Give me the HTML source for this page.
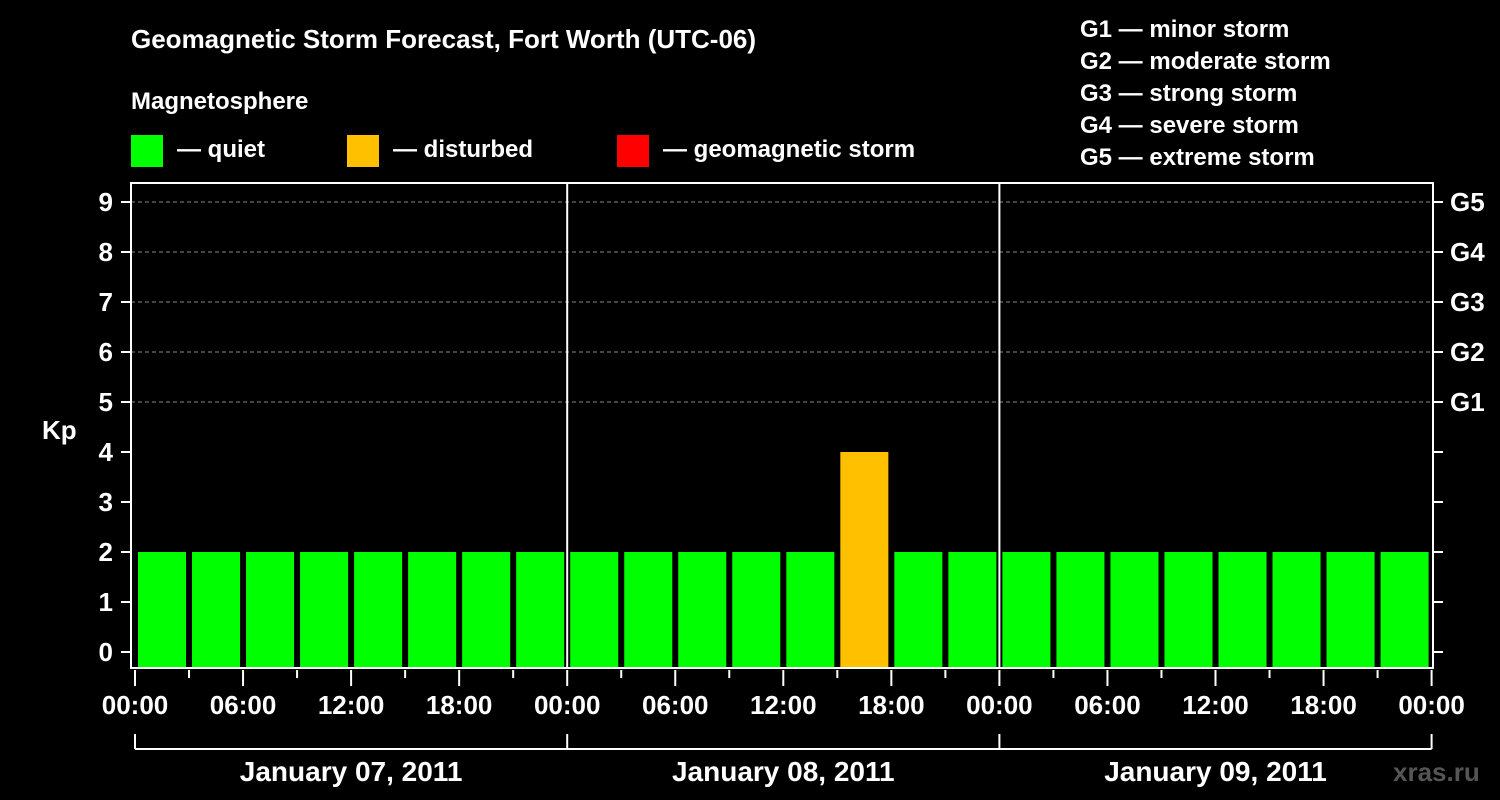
<!DOCTYPE html>
<html><head><meta charset="utf-8"><style>
body{margin:0;background:#000;}
svg{display:block;font-family:"Liberation Sans",sans-serif;font-weight:bold;fill:#fff;}
</style></head><body>
<svg width="1500" height="800">
<rect width="1500" height="800" fill="#000"/>
<text x="131" y="48" font-size="26">Geomagnetic Storm Forecast, Fort Worth (UTC-06)</text>
<text x="131" y="109" font-size="24">Magnetosphere</text>
<g>
<rect x="131" y="135" width="32" height="32" fill="#00ff00"/>
<text x="177" y="157" font-size="24">— quiet</text>
<rect x="347" y="135" width="32" height="32" fill="#ffc000"/>
<text x="393" y="157" font-size="24">— disturbed</text>
<rect x="617" y="135" width="32" height="32" fill="#ff0000"/>
<text x="663" y="157" font-size="24">— geomagnetic storm</text>
</g>
<g font-size="24">
<text x="1080" y="37">G1 — minor storm</text>
<text x="1080" y="69">G2 — moderate storm</text>
<text x="1080" y="101">G3 — strong storm</text>
<text x="1080" y="133">G4 — severe storm</text>
<text x="1080" y="165">G5 — extreme storm</text>
</g>
<g id="grid"></g>
<g id="bars"></g>
<rect x="131" y="183" width="1302" height="485" fill="none" stroke="#fff" stroke-width="2"/>
<g id="axes"></g>
<text x="42" y="439" font-size="26">Kp</text>
<text x="1393" y="781" font-size="26" fill="#555" style="fill:#555">xras.ru</text>
</svg>
<script>
const kpValues=[2,2,2,2,2,2,2,2, 2,2,2,2,2,4,2,2, 2,2,2,2,2,2,2,2];
const dayLabels=["January 07, 2011","January 08, 2011","January 09, 2011"];
const hourLabels=["00:00","06:00","12:00","18:00"];
const gLabels=["G1","G2","G3","G4","G5"];
const yTicks=[0,1,2,3,4,5,6,7,8,9];
const NS="http://www.w3.org/2000/svg";
const x0=135, dayW=432.2, slotW=dayW/8, plotBottom=667;
function xs(i){return x0+i*slotW;}
function ys(v){return 652-50*v;}
function colorFor(v){return v>=5?"#ff0000":(v>=4?"#ffc000":"#00ff00");}
function mk(tag,attrs,parent){const e=document.createElementNS(NS,tag);for(const k in attrs)e.setAttribute(k,attrs[k]);parent.appendChild(e);return e;}
const grid=document.getElementById("grid"),bars=document.getElementById("bars"),axes=document.getElementById("axes");
for(let k=5;k<=9;k++){
  const l=mk("line",{x1:131,x2:1433,y1:ys(k),y2:ys(k),stroke:"#888","stroke-dasharray":"4,3","stroke-width":1},grid);
  
  
}
for(let d=1;d<3;d++){
  const l=mk("line",{x1:x0+d*dayW,x2:x0+d*dayW,y1:183,y2:668,stroke:"#fff","stroke-width":2},grid);
  
  
}
kpValues.forEach((v,i)=>{
  const r=mk("rect",{x:xs(i)+3,y:ys(v),width:slotW-6,height:plotBottom-ys(v),fill:colorFor(v)},bars);
  
  
});
yTicks.forEach(v=>{
  mk("line",{x1:121,x2:131,y1:ys(v),y2:ys(v),stroke:"#fff","stroke-width":2},axes);
  mk("line",{x1:1433,x2:1443,y1:ys(v),y2:ys(v),stroke:"#fff","stroke-width":2},axes);
  const t=mk("text",{x:113,y:ys(v)+9,"font-size":26,"text-anchor":"end"},axes);
  t.textContent=v;
  
  
});
gLabels.forEach((g,i)=>{
  const t=mk("text",{x:1450,y:ys(5+i)+9,"font-size":26},axes);
  t.textContent=g;
  
  
});
for(let i=0;i<=24;i++){
  const x=xs(i), major=i%2===0;
  mk("line",{x1:x,x2:x,y1:670,y2:major?686:678,stroke:"#fff","stroke-width":2},axes);
  if(major){
    const t=mk("text",{x:x,y:714,"font-size":26,"text-anchor":"middle"},axes);
    t.textContent=hourLabels[(i/2)%4];
    
    
  }
}
mk("line",{x1:x0,x2:x0+3*dayW,y1:749,y2:749,stroke:"#fff","stroke-width":2},axes);
for(let d=0;d<=3;d++) mk("line",{x1:x0+d*dayW,x2:x0+d*dayW,y1:734,y2:749,stroke:"#fff","stroke-width":2},axes);
dayLabels.forEach((s,d)=>{
  const t=mk("text",{x:x0+d*dayW+dayW/2,y:781,"font-size":28,"text-anchor":"middle"},axes);
  t.textContent=s;
  
  
});
</script>
</body></html>
